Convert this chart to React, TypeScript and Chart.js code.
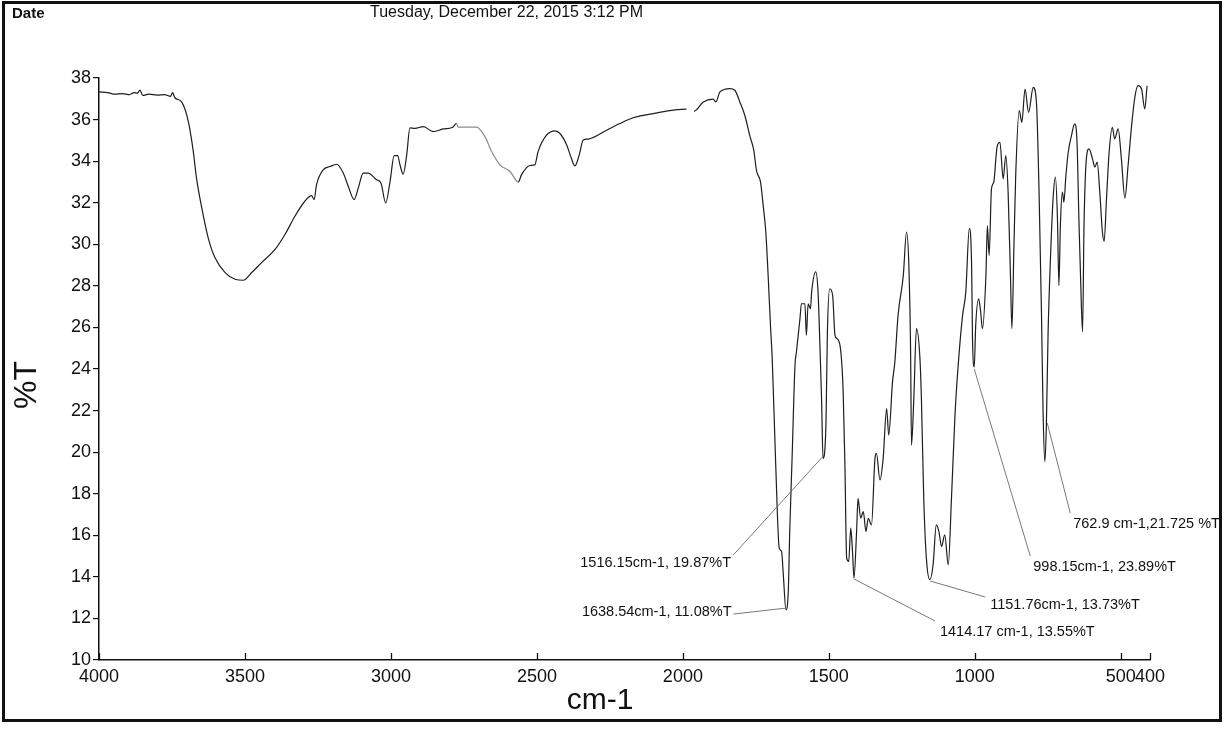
import React, { useEffect, useRef } from "react";
import { Chart, registerables } from "chart.js";

Chart.register(...registerables);

// ---- data ----
const WAVENUMBERS: number[] = [
  4000, 3970, 3945, 3920, 3895, 3880, 3868, 3860, 3850, 3830, 3800, 3775, 3755, 3748, 3740,
  3717, 3694, 3677, 3666, 3648, 3626, 3603, 3568, 3534, 3506, 3477, 3443, 3397, 3363, 3329,
  3295, 3272, 3263, 3255, 3232, 3209, 3186, 3163, 3146, 3126, 3112, 3095, 3078, 3049, 3034,
  3018, 3003, 2989, 2977, 2969, 2958, 2946, 2935, 2918, 2889, 2855, 2821, 2790, 2775, 2770,
  2707, 2678, 2655, 2627, 2592, 2564, 2553, 2524, 2507, 2496, 2467, 2438, 2421, 2398, 2382,
  2370, 2355, 2342, 2324, 2261, 2216, 2170, 2102, 1988, 1962, 1930, 1896, 1887, 1873, 1839,
  1822, 1805, 1788, 1771, 1757, 1748, 1734, 1725, 1716, 1708, 1700, 1694, 1682, 1670, 1662,
  1656, 1647, 1639, 1634, 1626, 1616, 1611, 1599, 1594, 1582, 1577, 1571, 1563, 1559, 1545,
  1537, 1531, 1525, 1520, 1510, 1505, 1497, 1487, 1479, 1472, 1459, 1451, 1445, 1439, 1432,
  1425, 1419, 1414, 1405, 1400, 1391, 1382, 1373, 1365, 1354, 1342, 1337, 1325, 1314, 1302,
  1295, 1282, 1274, 1263, 1245, 1234, 1226, 1220, 1217, 1209, 1200, 1188, 1183, 1175, 1166,
  1154, 1143, 1132, 1123, 1114, 1103, 1091, 1080, 1068, 1057, 1042, 1031, 1019, 1011, 1008,
  1002, 997, 987, 980, 974, 962, 957, 951, 943, 935, 928, 924, 914, 903, 894,
  886, 878, 873, 866, 860, 848, 839, 828, 816, 800, 789, 780, 772, 766, 760,
  755, 749, 741, 732, 724, 717, 712, 707, 700, 695, 688, 680, 669, 658, 650,
  643, 638, 631, 626, 618, 609, 597, 589, 581, 572, 563, 557, 549, 540, 529,
  521, 509, 498, 486, 475, 463, 452, 441, 429, 418, 410,
];

const TRANSMITTANCE: number[] = [
  37.33, 37.3, 37.22, 37.25, 37.2, 37.3, 37.27, 37.42, 37.16, 37.22, 37.18, 37.2, 37.12, 37.3, 37.05,
  36.85, 35.9, 34.46, 33.18, 31.75, 30.31, 29.36, 28.64, 28.32, 28.27, 28.64, 29.12, 29.75, 30.47, 31.35,
  32.07, 32.34, 32.15, 32.86, 33.58, 33.74, 33.85, 33.42, 32.78, 32.15, 32.7, 33.42, 33.42, 33.1, 32.94,
  31.99, 33.02, 34.27, 34.27, 33.82, 33.37, 34.3, 35.6, 35.58, 35.66, 35.42, 35.55, 35.62, 35.81, 35.64,
  35.64, 35.18, 34.46, 33.82, 33.5, 32.99, 33.34, 33.79, 33.82, 34.46, 35.25, 35.46, 35.33, 34.78, 34.14,
  33.77, 34.3, 35.01, 35.06, 35.49, 35.81, 36.09, 36.29, 36.5, 36.4, 36.85, 36.98, 36.85, 37.33, 37.49,
  37.41, 36.85, 36.21, 35.23, 34.51, 33.55, 32.99, 31.87, 30.59, 28.5, 26.1, 24.5, 19.38, 15.38, 15.23,
  14.1, 12.41, 13.3, 16.2, 19.7, 24.18, 24.83, 26.42, 27.14, 27.14, 25.62, 27.14, 26.9, 27.7, 28.67,
  27.7, 25.3, 22.58, 19.7, 21.3, 25.79, 27.86, 27.54, 25.62, 25.46, 24.83, 22.9, 19.38, 14.9, 14.74,
  16.34, 15.22, 13.94, 16.18, 17.78, 16.82, 17.14, 16.18, 16.82, 16.5, 19.7, 19.94, 18.66, 19.7, 22.1,
  20.82, 23.38, 24.34, 26.58, 28.5, 30.59, 28.98, 24.83, 20.34, 22.58, 25.94, 24.5, 22.58, 17.78, 14.9,
  13.86, 14.58, 16.5, 16.18, 15.46, 16.02, 14.58, 17.78, 21.78, 24.18, 26.58, 27.7, 30.75, 28.98, 25.5,
  24.1, 26.1, 27.38, 26.74, 25.94, 28.5, 30.9, 29.46, 32.67, 32.99, 34.11, 34.67, 34.91, 33.15, 34.27,
  32.51, 28.5, 25.94, 29.94, 33.31, 36.43, 35.87, 37.47, 36.35, 37.55, 36.83, 32.51, 26.9, 21.78, 19.54,
  21.3, 25.79, 29.3, 32.19, 33.23, 31.23, 28.02, 30.91, 32.51, 32.03, 33.31, 34.43, 35.23, 35.79, 34.91,
  30.91, 28.5, 25.79, 30.91, 34.11, 34.59, 34.11, 33.71, 33.95, 32.51, 30.59, 30.14, 32.19, 34.43, 35.63,
  35.07, 35.55, 34.11, 32.22, 33.8, 35.71, 37.07, 37.63, 37.47, 36.51, 37.63,
];

// lighter-traced part of the scan, and the short break in the trace (cm-1 ranges)
const LIGHT_RANGE: number[] = [2564, 2775];
const BREAK_RANGE: number[] = [1962, 1988];

const X_TICKS: number[] = [4000, 3500, 3000, 2500, 2000, 1500, 1000, 500, 400];
const Y_MIN = 10;
const Y_MAX = 38;
const Y_STEP = 2;

const PEAK_LABELS: string[] = [
  "1516.15cm-1, 19.87%T",
  "1638.54cm-1, 11.08%T",
  "1414.17 cm-1, 13.55%T",
  "1151.76cm-1, 13.73%T",
  "998.15cm-1, 23.89%T",
  "762.9 cm-1,21.725 %T",
];
const PEAK_WN: number[] = [1520, 1645, 1414, 1153, 1002, 752];
const PEAK_T: number[] = [19.8, 12.5, 13.9, 13.8, 24.0, 21.4];

const HEADER_LEFT = "Date";
const HEADER_DATE = "Tuesday, December 22, 2015 3:12 PM";
const X_TITLE = "cm-1";
const Y_TITLE = "%T";

// ---- layout / style (pixels) ----
const W = 1225;
const H = 734;
const AREA = { left: 99, right: 1150, top: 78, bottom: 660 };
const FONT = '"Liberation Sans", Arial, Helvetica, sans-serif';
// label placement relative to the anchor point:
// align: side of the text given by (dx, dy); leader starts at (lx, ly)
const LABEL_LAYOUT = [
  { align: "right", dx: -92, dy: 107, lx: -90, ly: 99 },
  { align: "right", dx: -55, dy: 4, lx: -53, ly: 6 },
  { align: "left", dx: 86, dy: 53, lx: 81, ly: 42 },
  { align: "left", dx: 60, dy: 24, lx: 55, ly: 16 },
  { align: "left", dx: 59, dy: 198, lx: 56, ly: 187 },
  { align: "left", dx: 26, dy: 101, lx: 23, ly: 90 },
];

export default function App() {
  const ref = useRef<HTMLCanvasElement>(null);

  useEffect(() => {
    document.body.style.margin = "0";
    const canvas = ref.current;
    if (!canvas) return;

    const points = WAVENUMBERS.map((x, i) => ({ x, y: TRANSMITTANCE[i] }));

    const decor = {
      id: "decor",
      beforeDraw(chart: any) {
        const ctx = chart.ctx;
        ctx.save();
        ctx.fillStyle = "#ffffff";
        ctx.fillRect(0, 0, chart.width, chart.height);
        ctx.restore();
      },
      afterDraw(chart: any) {
        const ctx: CanvasRenderingContext2D = chart.ctx;
        const xs = chart.scales.x;
        const ys = chart.scales.y;
        ctx.save();

        // frame
        ctx.strokeStyle = "#111";
        ctx.lineWidth = 3;
        ctx.strokeRect(3.5, 2.5, 1217, 718);

        // header
        ctx.fillStyle = "#111";
        ctx.textBaseline = "middle";
        ctx.textAlign = "left";
        ctx.font = `bold 15px ${FONT}`;
        ctx.fillText(HEADER_LEFT, 12, 14);
        ctx.font = `16px ${FONT}`;
        ctx.fillText(HEADER_DATE, 370, 13);

        // x ticks pointing up into the plot
        ctx.strokeStyle = "#111";
        ctx.lineWidth = 1.3;
        X_TICKS.forEach((v) => {
          const px = Math.round(xs.getPixelForValue(v)) + 0.5;
          ctx.beginPath();
          ctx.moveTo(px, AREA.bottom);
          ctx.lineTo(px, AREA.bottom - 7);
          ctx.stroke();
        });

        // axis titles
        ctx.fillStyle = "#111";
        ctx.textAlign = "center";
        ctx.font = `30px ${FONT}`;
        ctx.fillText(X_TITLE, 600, 701);
        ctx.save();
        ctx.translate(27, 385);
        ctx.rotate(-Math.PI / 2);
        ctx.font = `32px ${FONT}`;
        ctx.fillText(Y_TITLE, 0, 0);
        ctx.restore();

        // peak annotations
        ctx.font = `14.5px ${FONT}`;
        ctx.textBaseline = "middle";
        PEAK_LABELS.forEach((label, i) => {
          const ax = xs.getPixelForValue(PEAK_WN[i]);
          const ay = ys.getPixelForValue(PEAK_T[i]);
          const lay = LABEL_LAYOUT[i];
          ctx.strokeStyle = "#6a6a6a";
          ctx.lineWidth = 0.9;
          ctx.beginPath();
          ctx.moveTo(ax + lay.lx, ay + lay.ly);
          ctx.lineTo(ax, ay);
          ctx.stroke();
          ctx.fillStyle = "#111";
          ctx.textAlign = lay.align as CanvasTextAlign;
          ctx.fillText(label, ax + lay.dx, ay + lay.dy);
        });

        ctx.restore();
      },
    };

    const chart = new Chart(canvas, {
      type: "scatter",
      data: {
        datasets: [
          {
            data: points,
            showLine: true,
            pointRadius: 0,
            borderColor: "#1e1e1e",
            borderWidth: 1.2,
            cubicInterpolationMode: "monotone",
            segment: {
              borderColor: (c: any) => {
                const a = c.p0.parsed.x;
                const b = c.p1.parsed.x;
                if (a <= BREAK_RANGE[1] && b >= BREAK_RANGE[0]) return "rgba(0,0,0,0)";
                if (a <= LIGHT_RANGE[1] && b >= LIGHT_RANGE[0]) return "#8c8c8c";
                return "#1e1e1e";
              },
            },
          } as any,
        ],
      },
      options: {
        animation: false,
        responsive: false,
        maintainAspectRatio: false,
        devicePixelRatio: 1,
        layout: { padding: { left: 0, top: AREA.top, right: W - AREA.right, bottom: 0 } },
        plugins: { legend: { display: false }, tooltip: { enabled: false }, title: { display: false } },
        scales: {
          x: {
            type: "linear",
            reverse: true,
            min: 400,
            max: 4000,
            afterBuildTicks: (s: any) => {
              s.ticks = X_TICKS.map((v) => ({ value: v }));
            },
            afterFit: (s: any) => {
              s.height = H - AREA.bottom;
            },
            grid: { display: false, drawTicks: false },
            border: { display: true, color: "#111", width: 1.5 },
            ticks: {
              padding: 6,
              color: "#111",
              font: { family: FONT, size: 18 },
              maxRotation: 0,
              autoSkip: false,
              callback: (v: any) => String(v),
            },
          },
          y: {
            type: "linear",
            min: Y_MIN,
            max: Y_MAX,
            afterFit: (s: any) => {
              s.width = AREA.left;
            },
            grid: { display: true, drawOnChartArea: false, drawTicks: true, tickLength: 6, color: "#111", lineWidth: 1.2 },
            border: { display: true, color: "#111", width: 1.5 },
            ticks: {
              stepSize: Y_STEP,
              padding: 2,
              color: "#111",
              font: { family: FONT, size: 18 },
              autoSkip: false,
            },
          },
        },
      },
      plugins: [decor],
    } as any);

    return () => chart.destroy();
  }, []);

  return (
    <div style={{ position: "absolute", left: 0, top: 0, width: W, height: H }}>
      <canvas ref={ref} width={W} height={H} style={{ width: W, height: H, display: "block" }} />
    </div>
  );
}
